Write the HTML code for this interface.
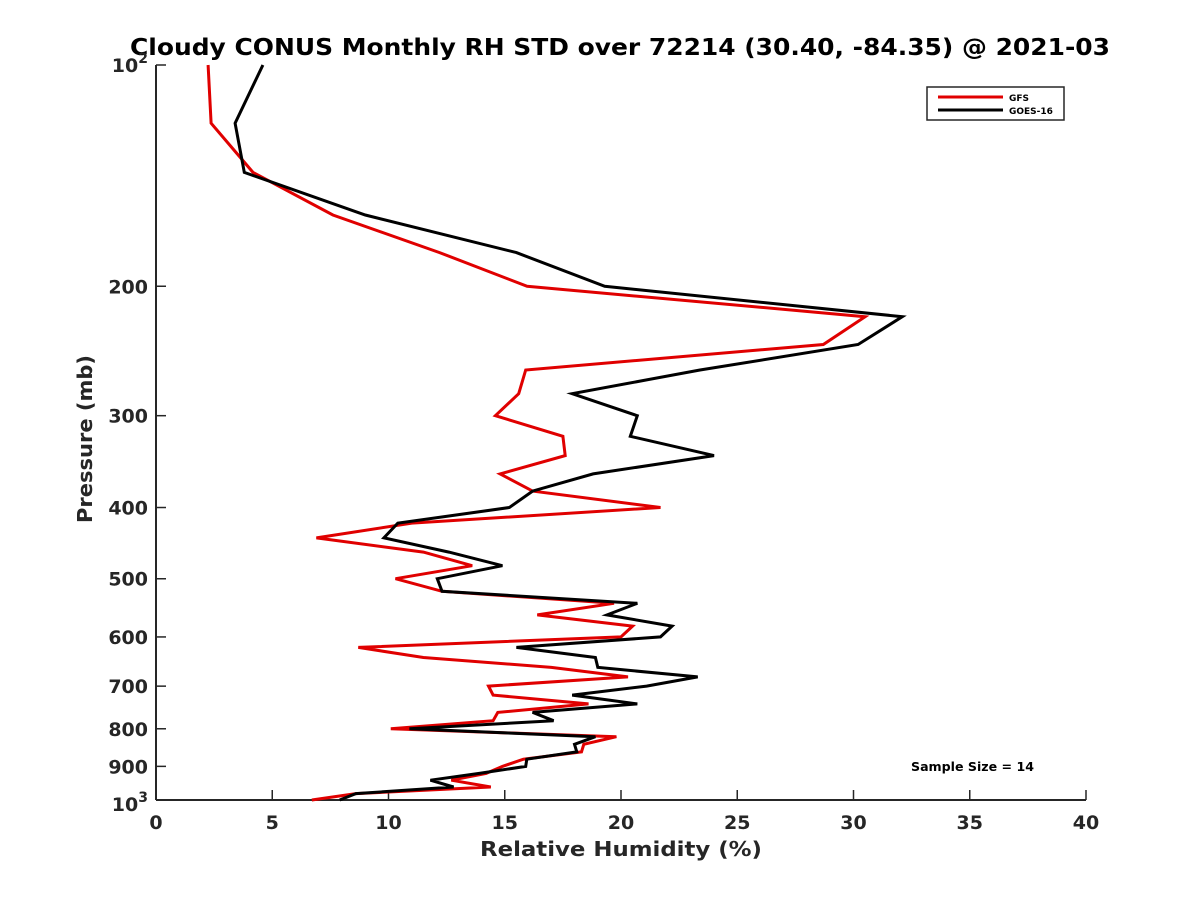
<!DOCTYPE html>
<html><head><meta charset="utf-8"><style>
body{margin:0;background:#fff}
svg{display:block;font-family:"DejaVu Sans","Liberation Sans",sans-serif;font-weight:bold}
</style></head><body>
<svg id="chart" width="1200" height="900" viewBox="0 0 1200 900">
<rect width="1200" height="900" fill="#fff"/>
<text x="130" y="55" textLength="980" lengthAdjust="spacingAndGlyphs" font-size="23" fill="#000">Cloudy CONUS Monthly RH STD over 72214 (30.40, -84.35) @ 2021-03</text>
<g id="axes"></g>
<g id="series"></g>
<text x="480" y="856" textLength="282" lengthAdjust="spacingAndGlyphs" font-size="20" fill="#262626">Relative Humidity (%)</text>
<text transform="translate(92,523) rotate(-90)" textLength="168" lengthAdjust="spacingAndGlyphs" font-size="20" fill="#262626">Pressure (mb)</text>
<g>
<rect x="927" y="87" width="137" height="33" fill="#fff" stroke="#262626" stroke-width="1.5"/>
<line x1="938" y1="97" x2="1003" y2="97" stroke="#e00000" stroke-width="3"/>
<text x="1009" y="101" font-size="9" fill="#000">GFS</text>
<line x1="938" y1="110" x2="1003" y2="110" stroke="#000" stroke-width="3"/>
<text x="1009" y="114" font-size="9" fill="#000">GOES-16</text>
</g>
<text x="911" y="771" textLength="123" lengthAdjust="spacingAndGlyphs" font-size="12" fill="#000">Sample Size = 14</text>
</svg>
<script>
const levels=[100,120,140,160,180,200,220,240,260,280,300,320,340,360,380,400,420,440,460,480,500,520,540,560,580,600,620,640,660,680,700,720,740,760,780,800,820,840,860,880,900,920,940,960,980,1000];
const gfsValues=[2.24,2.37,4.17,7.61,12.2,15.96,30.5,28.7,15.9,15.6,14.6,17.5,17.6,14.8,16.2,21.7,11.0,6.9,11.5,13.6,10.3,12.3,19.7,16.4,20.5,20.0,8.7,11.5,17.0,20.3,14.3,14.5,18.6,14.7,14.5,10.1,19.8,18.4,18.3,15.8,14.9,14.2,12.7,14.4,8.6,6.7];
const goesValues=[4.6,3.4,3.8,9.0,15.5,19.3,32.1,30.2,23.4,17.9,20.7,20.4,24.0,18.8,16.2,15.2,10.4,9.8,12.6,14.9,12.1,12.3,20.7,19.4,22.2,21.7,15.5,18.9,19.0,23.3,21.1,17.9,20.7,16.2,17.1,10.9,18.9,18.0,18.1,15.95,15.9,13.9,11.8,12.8,8.6,7.9];
const xTicks=[0,5,10,15,20,25,30,35,40];
const yTicks=[100,200,300,400,500,600,700,800,900,1000];
const yTickLabels=["10²","200","300","400","500","600","700","800","900","10³"];

const L=156,R=1086,T=65,B=800;
const xs=v=>L+(v-0)/(40-0)*(R-L);
const ys=p=>T+(Math.log10(p)-2)*(B-T);
const NS="http://www.w3.org/2000/svg";
const axes=document.getElementById('axes');
const series=document.getElementById('series');
function mk(tag,attrs,parent){const e=document.createElementNS(NS,tag);for(const k in attrs)e.setAttribute(k,attrs[k]);parent.appendChild(e);return e;}

let e=mk('line',{x1:L,y1:B,x2:R,y2:B,stroke:'#262626','stroke-width':2},axes);


e=mk('line',{x1:L,y1:T,x2:L,y2:B,stroke:'#262626','stroke-width':2},axes);



xTicks.forEach(v=>{
  const x=xs(v);
  let t=mk('line',{x1:x,y1:B,x2:x,y2:B-10,stroke:'#262626','stroke-width':1.5},axes);
  
  
  let l=mk('text',{x:x,y:B+29,'text-anchor':'middle','font-size':19,fill:'#262626'},axes);
  l.textContent=String(v);
  
  
});
yTicks.forEach((p,i)=>{
  const y=ys(p);
  let t=mk('line',{x1:L,y1:y,x2:L+10,y2:y,stroke:'#262626','stroke-width':1.5},axes);
  
  
  const lab=yTickLabels[i];
  let l=mk('text',{x:L-8,y:y+7,'text-anchor':'end','font-size':19,fill:'#262626'},axes);
  if(lab.indexOf('10')===0&&lab.length===3){
    l.textContent='10';
    let s=mk('tspan',{dy:-9,'font-size':14},l);
    s.textContent=lab.endsWith('²')?'2':'3';
    l.setAttribute('y',y+(p===1000?11:7));
  } else l.textContent=lab;
  
  
});
function drawLine(vals,color,name){
  const pts=vals.map((v,i)=>xs(v).toFixed(1)+','+ys(levels[i]).toFixed(1)).join(' ');
  const pl=mk('polyline',{points:pts,fill:'none',stroke:color,'stroke-width':3,'stroke-linejoin':'miter'},series);
  
  
}
drawLine(gfsValues,'#e00000','gfs-line');
drawLine(goesValues,'#000000','goes16-line');
</script>
</body></html>
